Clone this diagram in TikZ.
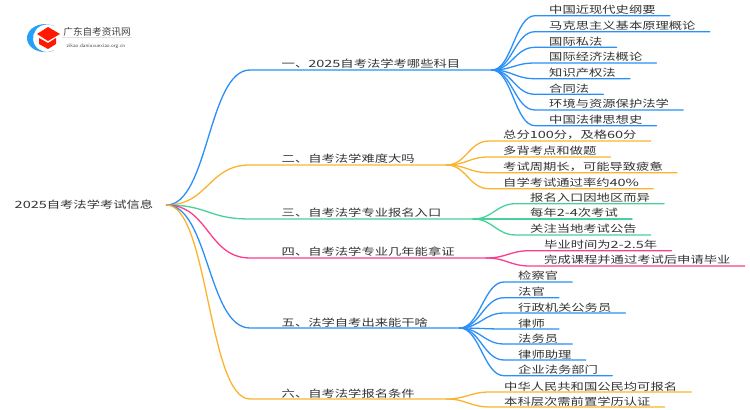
\documentclass[tikz,border=0pt]{standalone}
\usepackage{fontspec}
\setmainfont{Noto Sans CJK SC}[FakeStretch=1.33]
\newfontfamily\logofont{Noto Sans CJK SC}
\newfontfamily\digitfont{Noto Sans CJK SC}[FakeStretch=1.45]
\newcommand{\dg}[1]{{\digitfont #1}}
\definecolor{mindblue}{HTML}{2A8FF7}
\definecolor{mindorange}{HTML}{FBB32F}
\definecolor{mindgreen}{HTML}{45D39A}
\definecolor{mindpink}{HTML}{FB3D8C}
\definecolor{mindtext}{HTML}{333333}
\tikzset{
  topic/.style={anchor=center,inner xsep=13bp,inner ysep=0bp,font=\fontsize{10bp}{12bp}\selectfont,text=mindtext},
  branch/.style={anchor=south west,inner xsep=31.5bp,inner ysep=0.3bp,text height=8bp,text depth=1.5bp,font=\fontsize{10bp}{12bp}\selectfont,text=mindtext},
  leaf/.style={anchor=south west,inner xsep=14bp,inner ysep=0.3bp,text height=8bp,text depth=1.5bp,font=\fontsize{10bp}{12bp}\selectfont,text=mindtext},
  link/.style={line width=1.3bp,line cap=round},
}
\begin{document}
\begin{tikzpicture}[line join=bevel]
    \useasboundingbox (0bp,0bp) rectangle (750bp,410bp);
    %% logo
    \fill [mindblue!85!cyan] (54bp,384bp) arc (60:300:18bp and 14bp) arc (300:60:14bp and 13.86bp) -- cycle;
    \fill [red!80!orange] (48bp,383bp) -- (60bp,376bp) -- (48bp,369bp) -- (37bp,376bp) -- cycle;
    \fill [red!80!orange] (39bp,372bp) -- (48bp,367bp) -- (56bp,372bp) -- (56bp,366bp) -- (48bp,361bp) -- (39bp,366bp) -- cycle;
    \node (logotitle) at (97bp,378bp) [inner sep=1bp,font=\logofont\fontsize{9.6bp}{11bp}\selectfont,text=black!75] {广东自考资讯网};
    \node (logourl) at (96bp,364bp) [inner sep=0bp,font=\sffamily\fontsize{5.2bp}{6bp}\selectfont,text=black!70] {zikao.daniuxuexiao.org.cn};
    \draw [black!12,line width=0.5bp] (logotitle.south west) -- (logotitle.south east);
    %% root
    \node (root) at (84bp,205bp) [topic] {\dg{2025}自考法学考试信息};
    %% branches
    \node (b1) at (250bp,340bp) [branch] {一、\dg{2025}自考法学考哪些科目};
    \node (b2) at (250bp,245bp) [branch] {二、自考法学难度大吗};
    \node (b3) at (250bp,191bp) [branch] {三、自考法学专业报名入口};
    \node (b4) at (250bp,152bp) [branch] {四、自考法学专业几年能拿证};
    \node (b5) at (250bp,82bp) [branch] {五、法学自考出来能干啥};
    \node (b6) at (250bp,11bp) [branch] {六、自考法学报名条件};
    %% leaves
    \node (a1) at (535bp,394.3bp) [leaf] {中国近现代史纲要};
    \node (a2) at (535bp,378.3bp) [leaf] {马克思主义基本原理概论};
    \node (a3) at (535bp,362.7bp) [leaf] {国际私法};
    \node (a4) at (535bp,347bp) [leaf] {国际经济法概论};
    \node (a5) at (535bp,331.3bp) [leaf] {知识产权法};
    \node (a6) at (535bp,315.7bp) [leaf] {合同法};
    \node (a7) at (535bp,300bp) [leaf] {环境与资源保护法学};
    \node (a8) at (535bp,284.3bp) [leaf] {中国法律思想史};
    \node (c1) at (489bp,269bp) [leaf] {总分\dg{100}分，及格\dg{60}分};
    \node (c2) at (489bp,253bp) [leaf] {多背考点和做题};
    \node (c3) at (489bp,237.3bp) [leaf] {考试周期长，可能导致疲惫};
    \node (c4) at (489bp,221.3bp) [leaf] {自学考试通过率约\dg{40\%}};
    \node (d1) at (516bp,206.3bp) [leaf] {报名入口因地区而异};
    \node (d2) at (516bp,191bp) [leaf] {每年\dg{2-4}次考试};
    \node (d3) at (516bp,175bp) [leaf] {关注当地考试公告};
    \node (e1) at (530bp,159.3bp) [leaf] {毕业时间为\dg{2-2.5}年};
    \node (e2) at (530bp,144bp) [leaf] {完成课程并通过考试后申请毕业};
    \node (f1) at (504bp,128bp) [leaf] {检察官};
    \node (f2) at (504bp,112.3bp) [leaf] {法官};
    \node (f3) at (504bp,97bp) [leaf] {行政机关公务员};
    \node (f4) at (504bp,81bp) [leaf] {律师};
    \node (f5) at (504bp,66bp) [leaf] {法务员};
    \node (f6) at (504bp,50bp) [leaf] {律师助理};
    \node (f7) at (504bp,34.3bp) [leaf] {企业法务部门};
    \node (g1) at (490bp,18bp) [leaf] {中华人民共和国公民均可报名};
    \node (g2) at (490bp,3bp) [leaf] {本科层次需前置学历认证};
    %% connectors
    \draw [link,mindblue] (root.east) .. controls +(42bp,0bp) and +(-42bp,0bp) .. (b1.south west) -- (b1.south east);
    \draw [link,mindorange] (root.east) .. controls +(42bp,0bp) and +(-42bp,0bp) .. (b2.south west) -- (b2.south east);
    \draw [link,mindgreen] (root.east) .. controls +(42bp,0bp) and +(-42bp,0bp) .. (b3.south west) -- (b3.south east);
    \draw [link,mindpink] (root.east) .. controls +(42bp,0bp) and +(-42bp,0bp) .. (b4.south west) -- (b4.south east);
    \draw [link,mindblue] (root.east) .. controls +(42bp,0bp) and +(-42bp,0bp) .. (b5.south west) -- (b5.south east);
    \draw [link,mindorange] (root.east) .. controls +(42bp,0bp) and +(-42bp,0bp) .. (b6.south west) -- (b6.south east);
    \foreach \leafname in {a1,a2,a3,a4,a5,a6,a7,a8}
      \draw [link,mindblue] (b1.south east) .. controls +(20bp,0bp) and +(-20bp,0bp) .. (\leafname.south west) -- (\leafname.south east);
    \foreach \leafname in {c1,c2,c3,c4}
      \draw [link,mindorange] (b2.south east) .. controls +(20bp,0bp) and +(-20bp,0bp) .. (\leafname.south west) -- (\leafname.south east);
    \foreach \leafname in {d1,d2,d3}
      \draw [link,mindgreen] (b3.south east) .. controls +(20bp,0bp) and +(-20bp,0bp) .. (\leafname.south west) -- (\leafname.south east);
    \foreach \leafname in {e1,e2}
      \draw [link,mindpink] (b4.south east) .. controls +(20bp,0bp) and +(-20bp,0bp) .. (\leafname.south west) -- (\leafname.south east);
    \foreach \leafname in {f1,f2,f3,f4,f5,f6,f7}
      \draw [link,mindblue] (b5.south east) .. controls +(20bp,0bp) and +(-20bp,0bp) .. (\leafname.south west) -- (\leafname.south east);
    \foreach \leafname in {g1,g2}
      \draw [link,mindorange] (b6.south east) .. controls +(20bp,0bp) and +(-20bp,0bp) .. (\leafname.south west) -- (\leafname.south east);
    %
\end{tikzpicture}
\end{document}
